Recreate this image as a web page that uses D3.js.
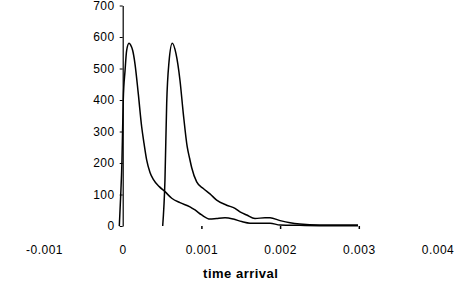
<!DOCTYPE html>
<html>
<head>
<meta charset="utf-8">
<script src="https://cdn.jsdelivr.net/npm/d3@7"></script>
<style>
  body { margin: 0; background: #fff; }
  svg text { font-family: "Liberation Sans", Arial, sans-serif; }
</style>
</head>
<body>
<div id="chart"></div>
<script>
// arrival curves
var firstTimes = [-0.000043, -0.000025, -0.00001, 0.000007, 0.00003, 0.00005, 0.00008, 0.0001, 0.000127, 0.000156,
  0.000198, 0.000241, 0.000271, 0.000305, 0.000347, 0.000389, 0.000465, 0.000537, 0.000623, 0.000728,
  0.000855, 0.000919, 0.001004, 0.001109, 0.001194, 0.0013, 0.001405, 0.001512, 0.001618, 0.001872,
  0.002, 0.00225, 0.00263, 0.00299];
var firstCounts = [0, 100, 200, 400, 494, 557, 580, 575, 557, 515,
  420, 315, 262, 209, 170, 148, 125, 109, 88, 74,
  61, 51, 35, 22, 24, 26, 22, 14, 9, 9,
  3, 2, 1, 1];

var secondTimes = [0.000508, 0.000537, 0.000559, 0.000588, 0.00063, 0.000677, 0.000728, 0.00077, 0.00082, 0.00085,
  0.000877, 0.00094, 0.001024, 0.001109, 0.001194, 0.001321, 0.001427, 0.00149, 0.001576, 0.001681,
  0.001808, 0.001872, 0.002, 0.002127, 0.00225, 0.0025, 0.00299];
var secondCounts = [0, 146, 390, 520, 580, 547, 462, 357, 251, 215,
  185, 140, 119, 102, 82, 66, 56, 45, 35, 24,
  26, 26, 17, 10, 6, 3, 3];

var xTicks = [-0.001, 0, 0.001, 0.002, 0.003, 0.004];
var xTickLabels = ["-0.001", "0", "0.001", "0.002", "0.003", "0.004"];
var yTicks = [0, 100, 200, 300, 400, 500, 600, 700];
var xTitle = "time arrival";

var width = 462, height = 289;

var svg = d3.select("#chart").append("svg")
  .attr("width", width)
  .attr("height", height);

var x = d3.scaleLinear().domain([-0.001, 0.004]).range([44, 437.5]);
var y = d3.scaleLinear().domain([0, 700]).range([226, 5.5]);

// x axis: no line, only labels and a few short ticks
var xAxis = svg.append("g")
  .attr("transform", "translate(0," + y(0) + ")")
  .call(d3.axisBottom(x).tickValues(xTicks).tickSize(3).tickPadding(16)
    .tickFormat(function(d, i) { return xTickLabels[i]; }));
xAxis.select(".domain").remove();
xAxis.selectAll(".tick line")
  .attr("stroke", function(d) { return (d > 0 && d < 0.0035) ? "#000" : "none"; })
  .attr("stroke-width", 1.5);
xAxis.selectAll("text")
  .attr("fill", "#000")
  .style("font-size", "12px")
  .style("letter-spacing", "0.5px");

// y axis sits on x = 0
var yAxis = svg.append("g")
  .attr("transform", "translate(" + x(0) + ",0)")
  .call(d3.axisLeft(y).tickValues(yTicks).tickSize(3).tickPadding(5).tickSizeOuter(0));
yAxis.select(".domain").attr("stroke", "#000").attr("stroke-width", 1.2);
yAxis.selectAll(".tick line").attr("stroke", "#000");
yAxis.selectAll("text")
  .attr("fill", "#000")
  .style("font-size", "12px")
  .style("letter-spacing", "0.5px");

var line = d3.line()
  .x(function(d) { return x(d[0]); })
  .y(function(d) { return y(d[1]); })
  .curve(d3.curveMonotoneX);

var series = [
  d3.zip(firstTimes, firstCounts),
  d3.zip(secondTimes, secondCounts)
];

svg.selectAll(".curve")
  .data(series)
  .enter().append("path")
  .attr("class", "curve")
  .attr("d", line)
  .attr("fill", "none")
  .attr("stroke", "#000")
  .attr("stroke-width", 1.5);

svg.append("text")
  .attr("x", (x(-0.001) + x(0.004)) / 2)
  .attr("y", 278)
  .attr("text-anchor", "middle")
  .style("font-size", "13px")
  .style("font-weight", "bold")
  .style("letter-spacing", "0.5px")
  .text(xTitle);
</script>
</body>
</html>
